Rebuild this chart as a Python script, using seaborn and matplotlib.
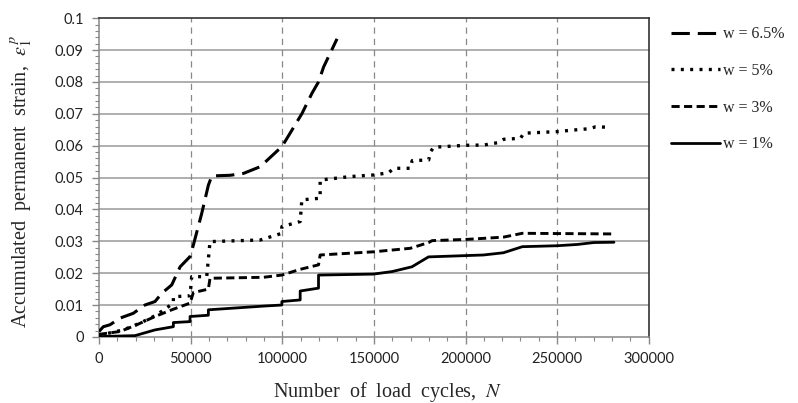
import matplotlib
matplotlib.use("Agg")
import matplotlib.pyplot as plt
import seaborn as sns
import numpy as np
from matplotlib.ticker import MultipleLocator

# ---- data ----
n_65 = [0, 2400, 6000, 11500, 18700, 25100, 30600, 34300, 39700, 44300, 49700, 51500,
        56100, 59700, 61600, 71600, 78900, 88000, 99800, 102600, 110800, 116200,
        119800, 122600, 129900]
e_65 = [0.0017, 0.0032, 0.0038, 0.0059, 0.0074, 0.0100, 0.0111, 0.0137, 0.0163, 0.0220,
        0.0252, 0.0288, 0.0388, 0.0476, 0.0505, 0.0507, 0.0513, 0.0534, 0.0597, 0.0623,
        0.0701, 0.0764, 0.0800, 0.0847, 0.0935]

n_5 = [0, 13300, 22400, 31500, 40600, 40600, 49700, 50600, 58800, 60600, 88000, 99800,
       99800, 109800, 110700, 120700, 120700, 137100, 149900, 158100, 160800, 169900,
       170900, 179900, 180900, 182700, 200000, 210000, 217300, 220900, 230000, 231800,
       250000, 259000, 267300, 271000, 276500]
e_5 = [0.0005, 0.0022, 0.0043, 0.0069, 0.0106, 0.0126, 0.0129, 0.0189, 0.0189, 0.0299,
       0.0304, 0.0325, 0.0346, 0.0362, 0.0430, 0.0435, 0.0492, 0.0503, 0.0508, 0.0515,
       0.0529, 0.0529, 0.0553, 0.0555, 0.0581, 0.0595, 0.0601, 0.0602, 0.0609, 0.0620,
       0.0623, 0.0639, 0.0644, 0.0649, 0.0653, 0.0659, 0.0658]

n_3 = [0, 11500, 20600, 30600, 39700, 49700, 51500, 59700, 60600, 89800, 99800, 109800,
       119800, 120700, 149900, 169900, 179900, 181800, 200900, 220700, 231000, 281000]
e_3 = [0.0008, 0.0017, 0.0038, 0.0064, 0.0085, 0.0106, 0.0139, 0.0150, 0.0184, 0.0187,
       0.0194, 0.0212, 0.0226, 0.0257, 0.0267, 0.0278, 0.0296, 0.0302, 0.0306, 0.0313,
       0.0325, 0.0323]

n_1 = [0, 19700, 30600, 40600, 40600, 49700, 49700, 59700, 59700, 90700, 99800, 99800,
       109800, 109800, 119800, 119800, 149700, 160000, 170800, 179800, 209800, 220700,
       231000, 250000, 261000, 270000, 281000]
e_1 = [0.0001, 0.0004, 0.0022, 0.0032, 0.0045, 0.0048, 0.0064, 0.0068, 0.0085, 0.0097,
       0.0100, 0.0111, 0.0116, 0.0144, 0.0153, 0.0194, 0.0197, 0.0205, 0.0220, 0.0251,
       0.0257, 0.0264, 0.0283, 0.0286, 0.0290, 0.0296, 0.0297]

labels = ["w = 6.5%", "w = 5%", "w = 3%", "w = 1%"]
x_ticks = [0, 50000, 100000, 150000, 200000, 250000, 300000]
y_ticks = [0, 0.01, 0.02, 0.03, 0.04, 0.05, 0.06, 0.07, 0.08, 0.09, 0.1]
y_tick_labels = ["0", "0.01", "0.02", "0.03", "0.04", "0.05", "0.06", "0.07", "0.08", "0.09", "0.1"]

# ---- style ----
sns.set_style("white")
plt.rcParams["font.family"] = ["Liberation Serif", "DejaVu Serif"]
plt.rcParams["mathtext.fontset"] = "stix"

fig = plt.figure(figsize=(7.98, 4.03), dpi=100)
ax = fig.add_axes([0.124, 0.164, 0.689, 0.791])

series = [(n_65, e_65, (0, (6, 2.6)), 2.2),
          (n_5, e_5, (0, (0.9, 1.9)), 2.4),
          (n_3, e_3, (0, (2.8, 1.5)), 2.1),
          (n_1, e_1, "-", 2.0)]
for (xs, ys, ls, lw), lab in zip(series, labels):
    sns.lineplot(x=xs, y=ys, ax=ax, color="black", linestyle=ls, linewidth=lw,
                 label=lab, sort=False, estimator=None, zorder=3)

ax.set_xlim(0, 300000)
ax.set_ylim(0, 0.1)
ax.set_xticks(x_ticks)
ax.set_xticklabels([str(v) for v in x_ticks])
ax.set_yticks(y_ticks)
ax.set_yticklabels(y_tick_labels)
ax.xaxis.set_minor_locator(MultipleLocator(10000))
ax.yaxis.set_minor_locator(MultipleLocator(0.002))

for lab in ax.get_xticklabels() + ax.get_yticklabels():
    lab.set_fontfamily(["Lato", "DejaVu Sans"])
    lab.set_fontsize(10.5)
    lab.set_color("#222222")

ax.tick_params(axis="both", which="major", direction="out", length=5, width=1,
               color="#888888", pad=6, left=True, bottom=True)
ax.tick_params(axis="both", which="minor", direction="out", length=3, width=0.8,
               color="#888888", left=True, bottom=True)

# gridlines
for yv in y_ticks[1:-1]:
    ax.axhline(yv, color="#999999", lw=1.1, zorder=1)
for xv in x_ticks[1:-1]:
    ax.axvline(xv, color="#888888", lw=0.9, ls=(0, (5, 4)), zorder=1)

for side in ["left", "bottom"]:
    ax.spines[side].set_color("#888888")
    ax.spines[side].set_linewidth(1.1)
for side in ["top", "right"]:
    ax.spines[side].set_color("#333333")
    ax.spines[side].set_linewidth(1.2)

ax.set_xlabel("Number  of  load  cycles,  $N$", fontsize=14.5)
ax.set_ylabel("Accumulated  permanent  strain,  $\\varepsilon_1^{\\,p}$", fontsize=14.5)
ax.xaxis.set_label_coords(0.525, -0.136)
ax.yaxis.set_label_coords(-0.118, 0.486)

leg = ax.legend(loc="upper left", bbox_to_anchor=(1.04, 0.975), frameon=False,
                borderaxespad=0, borderpad=0,
                fontsize=11.5, handlelength=3.1, handletextpad=0.2, labelspacing=1.3)

fig.savefig("out.png", dpi=100)
